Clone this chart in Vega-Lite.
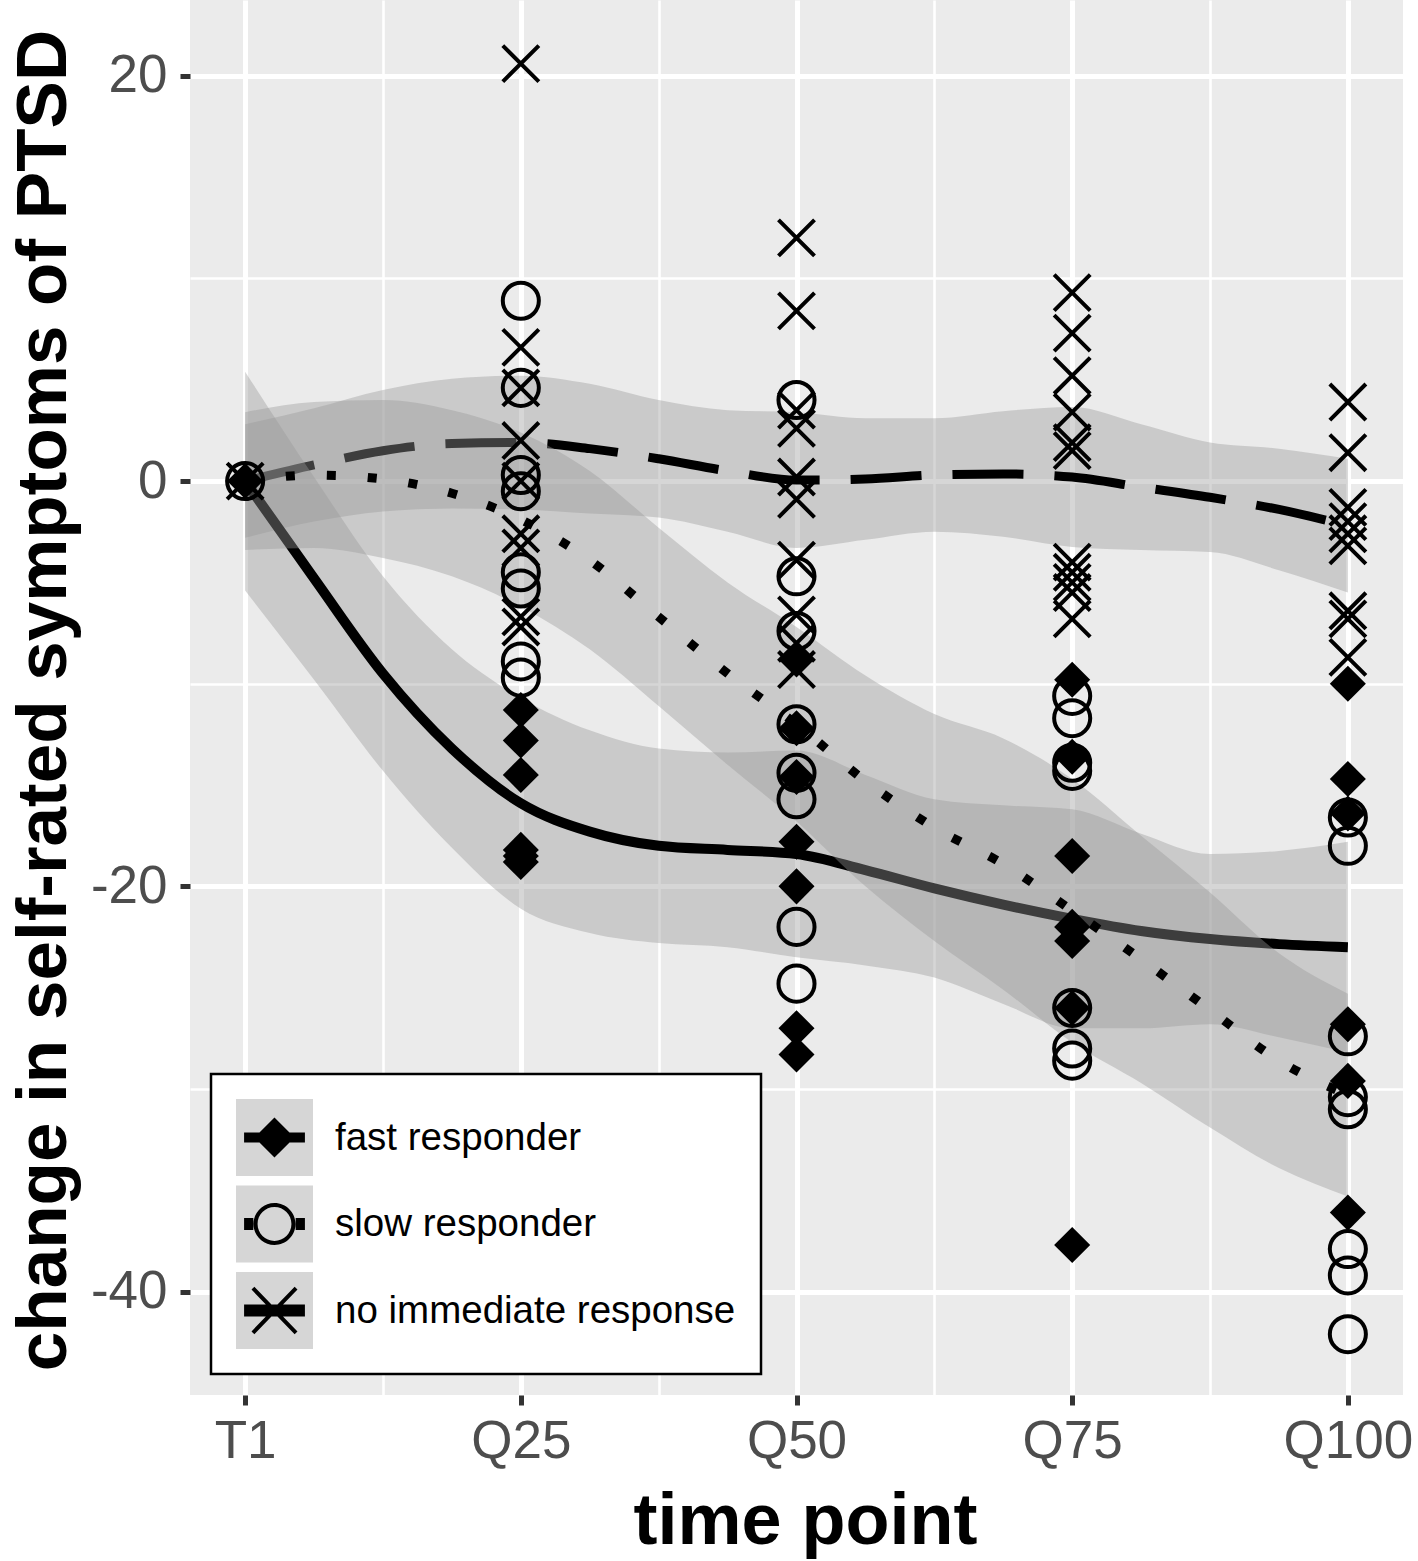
{
  "$schema": "https://vega.github.io/schema/vega-lite/v6.json",
  "width": 1213,
  "height": 1395,
  "autosize": {"type": "none"},
  "padding": {"left": 190, "top": 0, "right": 15, "bottom": 166},
  "background": "white",
  "config": {
    "view": {"fill": "#EBEBEB", "stroke": null},
    "font": "Liberation Sans",
    "legend": {"strokeWidth": 2.5}
  },
  "resolve": {"scale": {"shape": "independent"}, "legend": {"shape": "independent"}},
  "datasets": {
    "points": [
      {"time": 0, "value": 0, "group": "no immediate response"},
      {"time": 0, "value": 0, "group": "slow responder"},
      {"time": 0, "value": 0, "group": "fast responder"},
      {"time": 1, "value": -11.3, "group": "fast responder"},
      {"time": 1, "value": -12.8, "group": "fast responder"},
      {"time": 1, "value": -14.5, "group": "fast responder"},
      {"time": 1, "value": -18.2, "group": "fast responder"},
      {"time": 1, "value": -18.5, "group": "fast responder"},
      {"time": 1, "value": -18.8, "group": "fast responder"},
      {"time": 2, "value": -8.8, "group": "fast responder"},
      {"time": 2, "value": -12.2, "group": "fast responder"},
      {"time": 2, "value": -14.6, "group": "fast responder"},
      {"time": 2, "value": -17.8, "group": "fast responder"},
      {"time": 2, "value": -20.0, "group": "fast responder"},
      {"time": 2, "value": -27.0, "group": "fast responder"},
      {"time": 2, "value": -28.3, "group": "fast responder"},
      {"time": 3, "value": -9.8, "group": "fast responder"},
      {"time": 3, "value": -13.6, "group": "fast responder"},
      {"time": 3, "value": -18.5, "group": "fast responder"},
      {"time": 3, "value": -22.0, "group": "fast responder"},
      {"time": 3, "value": -22.7, "group": "fast responder"},
      {"time": 3, "value": -26.0, "group": "fast responder"},
      {"time": 3, "value": -37.7, "group": "fast responder"},
      {"time": 4, "value": -10.0, "group": "fast responder"},
      {"time": 4, "value": -14.7, "group": "fast responder"},
      {"time": 4, "value": -16.4, "group": "fast responder"},
      {"time": 4, "value": -26.8, "group": "fast responder"},
      {"time": 4, "value": -29.6, "group": "fast responder"},
      {"time": 4, "value": -36.1, "group": "fast responder"},
      {"time": 1, "value": 8.9, "group": "slow responder"},
      {"time": 1, "value": 4.6, "group": "slow responder"},
      {"time": 1, "value": 0.3, "group": "slow responder"},
      {"time": 1, "value": -0.5, "group": "slow responder"},
      {"time": 1, "value": -4.5, "group": "slow responder"},
      {"time": 1, "value": -5.3, "group": "slow responder"},
      {"time": 1, "value": -8.9, "group": "slow responder"},
      {"time": 1, "value": -9.7, "group": "slow responder"},
      {"time": 2, "value": 4.0, "group": "slow responder"},
      {"time": 2, "value": -4.7, "group": "slow responder"},
      {"time": 2, "value": -7.4, "group": "slow responder"},
      {"time": 2, "value": -12.0, "group": "slow responder"},
      {"time": 2, "value": -14.4, "group": "slow responder"},
      {"time": 2, "value": -15.7, "group": "slow responder"},
      {"time": 2, "value": -22.0, "group": "slow responder"},
      {"time": 2, "value": -24.8, "group": "slow responder"},
      {"time": 3, "value": -10.6, "group": "slow responder"},
      {"time": 3, "value": -11.7, "group": "slow responder"},
      {"time": 3, "value": -13.9, "group": "slow responder"},
      {"time": 3, "value": -14.3, "group": "slow responder"},
      {"time": 3, "value": -26.0, "group": "slow responder"},
      {"time": 3, "value": -28.0, "group": "slow responder"},
      {"time": 3, "value": -28.6, "group": "slow responder"},
      {"time": 4, "value": -16.6, "group": "slow responder"},
      {"time": 4, "value": -18.0, "group": "slow responder"},
      {"time": 4, "value": -27.4, "group": "slow responder"},
      {"time": 4, "value": -30.4, "group": "slow responder"},
      {"time": 4, "value": -31.0, "group": "slow responder"},
      {"time": 4, "value": -37.9, "group": "slow responder"},
      {"time": 4, "value": -39.2, "group": "slow responder"},
      {"time": 4, "value": -42.1, "group": "slow responder"},
      {"time": 1, "value": 20.6, "group": "no immediate response"},
      {"time": 1, "value": 6.6, "group": "no immediate response"},
      {"time": 1, "value": 4.6, "group": "no immediate response"},
      {"time": 1, "value": 2.0, "group": "no immediate response"},
      {"time": 1, "value": 0.0, "group": "no immediate response"},
      {"time": 1, "value": -2.6, "group": "no immediate response"},
      {"time": 1, "value": -3.3, "group": "no immediate response"},
      {"time": 1, "value": -6.7, "group": "no immediate response"},
      {"time": 1, "value": -7.2, "group": "no immediate response"},
      {"time": 2, "value": 12.0, "group": "no immediate response"},
      {"time": 2, "value": 8.4, "group": "no immediate response"},
      {"time": 2, "value": 3.5, "group": "no immediate response"},
      {"time": 2, "value": 2.6, "group": "no immediate response"},
      {"time": 2, "value": 0.2, "group": "no immediate response"},
      {"time": 2, "value": -0.9, "group": "no immediate response"},
      {"time": 2, "value": -3.9, "group": "no immediate response"},
      {"time": 2, "value": -6.6, "group": "no immediate response"},
      {"time": 2, "value": -8.0, "group": "no immediate response"},
      {"time": 2, "value": -9.3, "group": "no immediate response"},
      {"time": 3, "value": 9.3, "group": "no immediate response"},
      {"time": 3, "value": 7.3, "group": "no immediate response"},
      {"time": 3, "value": 5.2, "group": "no immediate response"},
      {"time": 3, "value": 3.4, "group": "no immediate response"},
      {"time": 3, "value": 1.9, "group": "no immediate response"},
      {"time": 3, "value": 1.5, "group": "no immediate response"},
      {"time": 3, "value": -4.0, "group": "no immediate response"},
      {"time": 3, "value": -4.5, "group": "no immediate response"},
      {"time": 3, "value": -5.0, "group": "no immediate response"},
      {"time": 3, "value": -5.5, "group": "no immediate response"},
      {"time": 3, "value": -6.8, "group": "no immediate response"},
      {"time": 4, "value": 3.9, "group": "no immediate response"},
      {"time": 4, "value": 1.4, "group": "no immediate response"},
      {"time": 4, "value": -1.3, "group": "no immediate response"},
      {"time": 4, "value": -2.0, "group": "no immediate response"},
      {"time": 4, "value": -2.6, "group": "no immediate response"},
      {"time": 4, "value": -3.2, "group": "no immediate response"},
      {"time": 4, "value": -6.4, "group": "no immediate response"},
      {"time": 4, "value": -6.8, "group": "no immediate response"},
      {"time": 4, "value": -8.7, "group": "no immediate response"}
    ],
    "bands": [
      {"group": "fast responder", "time": 0, "fit": 0, "lo": -5.4, "hi": 5.4},
      {"group": "fast responder", "time": 0.25, "fit": -4.8, "lo": -9.8, "hi": 0.2},
      {"group": "fast responder", "time": 0.5, "fit": -9.5, "lo": -14.3, "hi": -4.7},
      {"group": "fast responder", "time": 0.75, "fit": -13.2, "lo": -18.1, "hi": -8.3},
      {"group": "fast responder", "time": 1, "fit": -15.9, "lo": -21.1, "hi": -10.7},
      {"group": "fast responder", "time": 1.25, "fit": -17.3, "lo": -22.3, "hi": -12.3},
      {"group": "fast responder", "time": 1.5, "fit": -18.0, "lo": -22.8, "hi": -13.2},
      {"group": "fast responder", "time": 1.75, "fit": -18.2, "lo": -23.0, "hi": -13.4},
      {"group": "fast responder", "time": 2, "fit": -18.4, "lo": -23.5, "hi": -13.3},
      {"group": "fast responder", "time": 2.25, "fit": -19.2, "lo": -23.9, "hi": -14.5},
      {"group": "fast responder", "time": 2.5, "fit": -20.1, "lo": -24.5, "hi": -15.7},
      {"group": "fast responder", "time": 2.75, "fit": -20.9, "lo": -25.8, "hi": -16.0},
      {"group": "fast responder", "time": 3, "fit": -21.6, "lo": -27.0, "hi": -16.2},
      {"group": "fast responder", "time": 3.25, "fit": -22.2, "lo": -27.0, "hi": -17.4},
      {"group": "fast responder", "time": 3.5, "fit": -22.6, "lo": -26.8, "hi": -18.4},
      {"group": "fast responder", "time": 3.75, "fit": -22.85, "lo": -27.45, "hi": -18.25},
      {"group": "fast responder", "time": 4, "fit": -23.0, "lo": -28.2, "hi": -17.8},
      {"group": "slow responder", "time": 0, "fit": 0, "lo": -3.4, "hi": 3.4},
      {"group": "slow responder", "time": 0.25, "fit": 0.3, "lo": -3.3, "hi": 3.9},
      {"group": "slow responder", "time": 0.5, "fit": 0.1, "lo": -3.8, "hi": 4.0},
      {"group": "slow responder", "time": 0.75, "fit": -0.6, "lo": -4.7, "hi": 3.5},
      {"group": "slow responder", "time": 1, "fit": -1.9, "lo": -6.2, "hi": 2.4},
      {"group": "slow responder", "time": 1.25, "fit": -3.9, "lo": -8.3, "hi": 0.5},
      {"group": "slow responder", "time": 1.5, "fit": -6.7, "lo": -11.1, "hi": -2.3},
      {"group": "slow responder", "time": 1.75, "fit": -9.5, "lo": -14.0, "hi": -5.0},
      {"group": "slow responder", "time": 2, "fit": -12.0, "lo": -16.8, "hi": -7.2},
      {"group": "slow responder", "time": 2.25, "fit": -14.8, "lo": -20.0, "hi": -9.6},
      {"group": "slow responder", "time": 2.5, "fit": -17.1, "lo": -22.7, "hi": -11.5},
      {"group": "slow responder", "time": 2.75, "fit": -18.9, "lo": -25.1, "hi": -12.7},
      {"group": "slow responder", "time": 3, "fit": -21.2, "lo": -27.7, "hi": -14.7},
      {"group": "slow responder", "time": 3.25, "fit": -23.6, "lo": -29.7, "hi": -17.5},
      {"group": "slow responder", "time": 3.5, "fit": -26.1, "lo": -31.9, "hi": -20.3},
      {"group": "slow responder", "time": 3.75, "fit": -28.6, "lo": -33.9, "hi": -23.3},
      {"group": "slow responder", "time": 4, "fit": -30.3, "lo": -35.3, "hi": -25.3},
      {"group": "no immediate response", "time": 0, "fit": 0, "lo": -2.8, "hi": 2.8},
      {"group": "no immediate response", "time": 0.25, "fit": 0.8, "lo": -2.0, "hi": 3.6},
      {"group": "no immediate response", "time": 0.5, "fit": 1.5, "lo": -1.5, "hi": 4.5},
      {"group": "no immediate response", "time": 0.75, "fit": 1.85, "lo": -1.35, "hi": 5.05},
      {"group": "no immediate response", "time": 1, "fit": 1.9, "lo": -1.4, "hi": 5.2},
      {"group": "no immediate response", "time": 1.25, "fit": 1.6, "lo": -1.6, "hi": 4.8},
      {"group": "no immediate response", "time": 1.5, "fit": 1.1, "lo": -1.8, "hi": 4.0},
      {"group": "no immediate response", "time": 1.75, "fit": 0.5, "lo": -2.5, "hi": 3.5},
      {"group": "no immediate response", "time": 2, "fit": 0.05, "lo": -3.3, "hi": 3.4},
      {"group": "no immediate response", "time": 2.25, "fit": 0.1, "lo": -2.9, "hi": 3.1},
      {"group": "no immediate response", "time": 2.5, "fit": 0.3, "lo": -2.5, "hi": 3.1},
      {"group": "no immediate response", "time": 2.75, "fit": 0.35, "lo": -2.75, "hi": 3.45},
      {"group": "no immediate response", "time": 3, "fit": 0.2, "lo": -3.25, "hi": 3.65},
      {"group": "no immediate response", "time": 3.25, "fit": -0.3, "lo": -3.4, "hi": 2.8},
      {"group": "no immediate response", "time": 3.5, "fit": -0.8, "lo": -3.5, "hi": 1.9},
      {"group": "no immediate response", "time": 3.75, "fit": -1.4, "lo": -4.4, "hi": 1.6},
      {"group": "no immediate response", "time": 4, "fit": -2.2, "lo": -5.5, "hi": 1.1}
    ]
  },
  "layer": [
    {
      "data": {"name": "bands"},
      "transform": [{"filter": "datum.group === 'no immediate response'"}],
      "mark": {"type": "area", "fillOpacity": 0.4, "interpolate": "monotone"},
      "encoding": {
        "x": {
          "field": "time", "type": "quantitative",
          "scale": {"domain": [-0.2, 4.2], "nice": false, "zero": false},
          "axis": {
            "values": [0, 0.5, 1, 1.5, 2, 2.5, 3, 3.5, 4],
            "labelExpr": "datum.value === 0 ? 'T1' : datum.value === 1 ? 'Q25' : datum.value === 2 ? 'Q50' : datum.value === 3 ? 'Q75' : datum.value === 4 ? 'Q100' : ''",
            "labelFlush": false, "labelOverlap": false, "labelBound": false,
            "labelFontSize": 53, "labelColor": "#4D4D4D", "labelFont": "Liberation Sans",
            "labelBaseline": "alphabetic", "labelPadding": 52,
            "domain": false,
            "tickSize": 10, "tickWidth": 5, "tickColor": "#333333",
            "tickOpacity": {"condition": {"test": "datum.value % 1 === 0", "value": 1}, "value": 0},
            "grid": true, "gridColor": "white",
            "gridWidth": {"condition": {"test": "datum.value % 1 === 0", "value": 5}, "value": 2.6},
            "title": "time point", "titleFontSize": 72, "titleFontWeight": "bold", "titleColor": "black",
            "titleFont": "Liberation Sans", "titleBaseline": "alphabetic", "titleAlign": "center",
            "titleX": 615, "titleY": 148
          }
        },
        "y": {
          "field": "hi", "type": "quantitative",
          "scale": {"domain": [-45.1, 23.74], "nice": false, "zero": false},
          "axis": {
            "values": [-40, -30, -20, -10, 0, 10, 20],
            "labelExpr": "datum.value % 20 === 0 ? '' + datum.value : ''",
            "labelOverlap": false, "labelBound": false, "labelFlush": false,
            "labelFontSize": 53, "labelColor": "#4D4D4D", "labelFont": "Liberation Sans",
            "labelPadding": 13,
            "domain": false,
            "tickSize": 10, "tickWidth": 5, "tickColor": "#333333",
            "tickOpacity": {"condition": {"test": "datum.value % 20 === 0", "value": 1}, "value": 0},
            "grid": true, "gridColor": "white",
            "gridWidth": {"condition": {"test": "datum.value % 20 === 0", "value": 5}, "value": 2.6},
            "title": "change in self-rated symptoms of PTSD", "titleFontSize": 71, "titleFontWeight": "bold",
            "titleColor": "black", "titleFont": "Liberation Sans", "titleBaseline": "alphabetic",
            "titleAlign": "center", "titleAngle": -90, "titleX": -125, "titleY": 700
          }
        },
        "y2": {"field": "lo"},
        "fill": {
          "field": "group", "type": "nominal",
          "scale": {"domain": ["fast responder", "slow responder", "no immediate response"], "range": ["#999999", "#999999", "#999999"]},
          "legend": {
            "orient": "bottom-left", "offset": 21, "title": null,
            "padding": 25, "rowPadding": 9.5,
            "symbolSize": 5929, "symbolType": "square", "symbolStrokeWidth": 0, "symbolOpacity": 0.4,
            "labelFontSize": 38.5, "labelFont": "Liberation Sans", "labelColor": "black",
            "labelOffset": 22, "labelLimit": 0,
            "fillColor": "white", "strokeColor": "black"
          }
        }
      }
    },
    {
      "data": {"name": "bands"},
      "transform": [{"filter": "datum.group === 'no immediate response'"}],
      "mark": {"type": "line", "color": "black", "strokeWidth": 9, "strokeDash": [71, 31], "strokeCap": "butt", "interpolate": "monotone"},
      "encoding": {
        "x": {"field": "time", "type": "quantitative", "scale": {"domain": [-0.2, 4.2], "nice": false, "zero": false}},
        "y": {"field": "fit", "type": "quantitative", "scale": {"domain": [-45.1, 23.74], "nice": false, "zero": false}}
      }
    },
    {
      "data": {"name": "bands"},
      "transform": [{"filter": "datum.group === 'fast responder'"}],
      "mark": {"type": "area", "fillOpacity": 0.4, "interpolate": "monotone"},
      "encoding": {
        "x": {"field": "time", "type": "quantitative", "scale": {"domain": [-0.2, 4.2], "nice": false, "zero": false}},
        "y": {"field": "hi", "type": "quantitative", "scale": {"domain": [-45.1, 23.74], "nice": false, "zero": false}},
        "y2": {"field": "lo"},
        "fill": {
          "field": "group", "type": "nominal",
          "scale": {"domain": ["fast responder", "slow responder", "no immediate response"], "range": ["#999999", "#999999", "#999999"]},
          "legend": {
            "orient": "bottom-left", "offset": 21, "title": null,
            "padding": 25, "rowPadding": 9.5,
            "symbolSize": 5929, "symbolType": "square", "symbolStrokeWidth": 0, "symbolOpacity": 0.4,
            "labelFontSize": 38.5, "labelFont": "Liberation Sans", "labelColor": "black",
            "labelOffset": 22, "labelLimit": 0,
            "fillColor": "white", "strokeColor": "black"
          }
        }
      }
    },
    {
      "data": {"name": "bands"},
      "transform": [{"filter": "datum.group === 'fast responder'"}],
      "mark": {"type": "line", "color": "black", "strokeWidth": 10, "interpolate": "monotone"},
      "encoding": {
        "x": {"field": "time", "type": "quantitative", "scale": {"domain": [-0.2, 4.2], "nice": false, "zero": false}},
        "y": {"field": "fit", "type": "quantitative", "scale": {"domain": [-45.1, 23.74], "nice": false, "zero": false}}
      }
    },
    {
      "data": {"name": "bands"},
      "transform": [{"filter": "datum.group === 'slow responder'"}],
      "mark": {"type": "area", "fillOpacity": 0.4, "interpolate": "monotone"},
      "encoding": {
        "x": {"field": "time", "type": "quantitative", "scale": {"domain": [-0.2, 4.2], "nice": false, "zero": false}},
        "y": {"field": "hi", "type": "quantitative", "scale": {"domain": [-45.1, 23.74], "nice": false, "zero": false}},
        "y2": {"field": "lo"},
        "fill": {
          "field": "group", "type": "nominal",
          "scale": {"domain": ["fast responder", "slow responder", "no immediate response"], "range": ["#999999", "#999999", "#999999"]},
          "legend": {
            "orient": "bottom-left", "offset": 21, "title": null,
            "padding": 25, "rowPadding": 9.5,
            "symbolSize": 5929, "symbolType": "square", "symbolStrokeWidth": 0, "symbolOpacity": 0.4,
            "labelFontSize": 38.5, "labelFont": "Liberation Sans", "labelColor": "black",
            "labelOffset": 22, "labelLimit": 0,
            "fillColor": "white", "strokeColor": "black"
          }
        }
      }
    },
    {
      "data": {"name": "bands"},
      "transform": [{"filter": "datum.group === 'slow responder'"}],
      "mark": {"type": "line", "color": "black", "strokeWidth": 9, "strokeDash": [9, 32], "strokeCap": "butt", "interpolate": "monotone"},
      "encoding": {
        "x": {"field": "time", "type": "quantitative", "scale": {"domain": [-0.2, 4.2], "nice": false, "zero": false}},
        "y": {"field": "fit", "type": "quantitative", "scale": {"domain": [-45.1, 23.74], "nice": false, "zero": false}}
      }
    },
    {
      "data": {"name": "points"},
      "mark": {"type": "point", "opacity": 1, "stroke": "black", "size": 1300},
      "encoding": {
        "x": {"field": "time", "type": "quantitative", "scale": {"domain": [-0.2, 4.2], "nice": false, "zero": false}},
        "y": {"field": "value", "type": "quantitative", "scale": {"domain": [-45.1, 23.74], "nice": false, "zero": false}},
        "shape": {
          "field": "group", "type": "nominal",
          "scale": {"domain": ["fast responder", "slow responder", "no immediate response"], "range": ["diamond", "circle", "M-1,-1L1,1M-1,1L1,-1"]},
          "legend": null
        },
        "fill": {"condition": {"test": "datum.group === 'fast responder'", "value": "black"}, "value": "transparent"},
        "strokeWidth": {"condition": {"test": "datum.group === 'fast responder'", "value": 0}, "value": 4}
      }
    },
    {
      "data": {"name": "points"},
      "mark": {"type": "point", "filled": true, "color": "black", "opacity": 0, "size": 10},
      "encoding": {
        "x": {"field": "time", "type": "quantitative", "scale": {"domain": [-0.2, 4.2], "nice": false, "zero": false}},
        "y": {"field": "value", "type": "quantitative", "scale": {"domain": [-45.1, 23.74], "nice": false, "zero": false}},
        "shape": {
          "field": "group", "type": "nominal",
          "scale": {
            "domain": ["fast responder", "slow responder", "no immediate response"],
            "range": [
              "M-1,-1L-1,-1Z M1,1L1,1Z M-0.79,-0.13H-0.39L0,-0.52L0.39,-0.13H0.79V0.13H0.39L0,0.52L-0.39,0.13H-0.79Z",
              "M-1,-1L-1,-1Z M1,1L1,1Z M-0.545,0A0.545,0.545 0 1,0 0.545,0A0.545,0.545 0 1,0 -0.545,0Z M-0.44,0A0.44,0.44 0 1,1 0.44,0A0.44,0.44 0 1,1 -0.44,0Z M-0.79,-0.155H-0.55V0.155H-0.79Z M0.55,-0.155H0.79V0.155H0.55Z",
              "M-1,-1L-1,-1Z M1,1L1,1Z M-0.597,-0.544L0.523,0.616L0.597,0.544L-0.523,-0.616Z M-0.523,0.616L0.597,-0.544L0.523,-0.616L-0.597,0.544Z M-0.79,-0.155V0.155H0.79V-0.155Z"
            ]
          },
          "legend": {
            "orient": "none", "legendX": 21, "legendY": 1074, "title": null,
            "padding": 25, "rowPadding": 9.5,
            "symbolSize": 5929, "symbolOpacity": 1, "symbolFillColor": "black", "symbolStrokeWidth": 0,
            "labelFontSize": 38.5, "labelFont": "Liberation Sans", "labelOpacity": 0,
            "labelOffset": 22, "labelLimit": 0
          }
        }
      }
    }
  ]
}
